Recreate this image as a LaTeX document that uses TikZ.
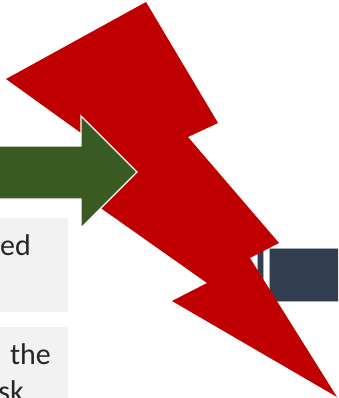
\documentclass[tikz,border=0pt]{standalone}
\usepackage{fontspec}
\setmainfont{Carlito}
\definecolor{boltred}{HTML}{C00000}
\definecolor{arrowgreen}{HTML}{3A5A24}
\definecolor{boxblue}{HTML}{333F50}
\definecolor{boxgray}{HTML}{F2F2F2}
\definecolor{boxedge}{HTML}{A9AFB8}
\begin{document}
\begin{tikzpicture}[x=1pt,y=-1pt,
  graybox/.style={fill=boxgray,draw=none},
  bluebox/.style={fill=boxblue,draw=boxedge,line width=0.8pt},
  txt/.style={font=\fontsize{30}{37}\selectfont,text=black!85,inner sep=0pt}]
\useasboundingbox (0,0) rectangle (338,398);
\clip (0,0) rectangle (338,398);
% gray text boxes
\path[graybox] (-10,218) rectangle (68,312);
\path[graybox] (-10,327) rectangle (68,410);
\node[txt,anchor=base east] (t1) at (31,255) {ed};
\node[txt,anchor=base east] (t2) at (51,364) {the};
\node[txt,anchor=base east] (t3) at (24,401) {sk};
% dark blue boxes
\path[bluebox] (257,248) rectangle (263,302);
\path[bluebox] (269,248) rectangle (345,301);
% lightning bolt
\fill[boltred] (146,2) -- (218,123) -- (188,137) -- (279,243) -- (250,258)
  -- (337,397) -- (172,301) -- (207,283) -- (85,197) -- (120,161) -- (6,79) -- cycle;
% green arrow
\filldraw[fill=arrowgreen,draw=white,line width=1.2pt,line join=miter]
  (-10,146) -- (81,146) -- (81,116) -- (137,172) -- (81,228) -- (81,199) -- (-10,199) -- cycle;
\end{tikzpicture}
\end{document}
